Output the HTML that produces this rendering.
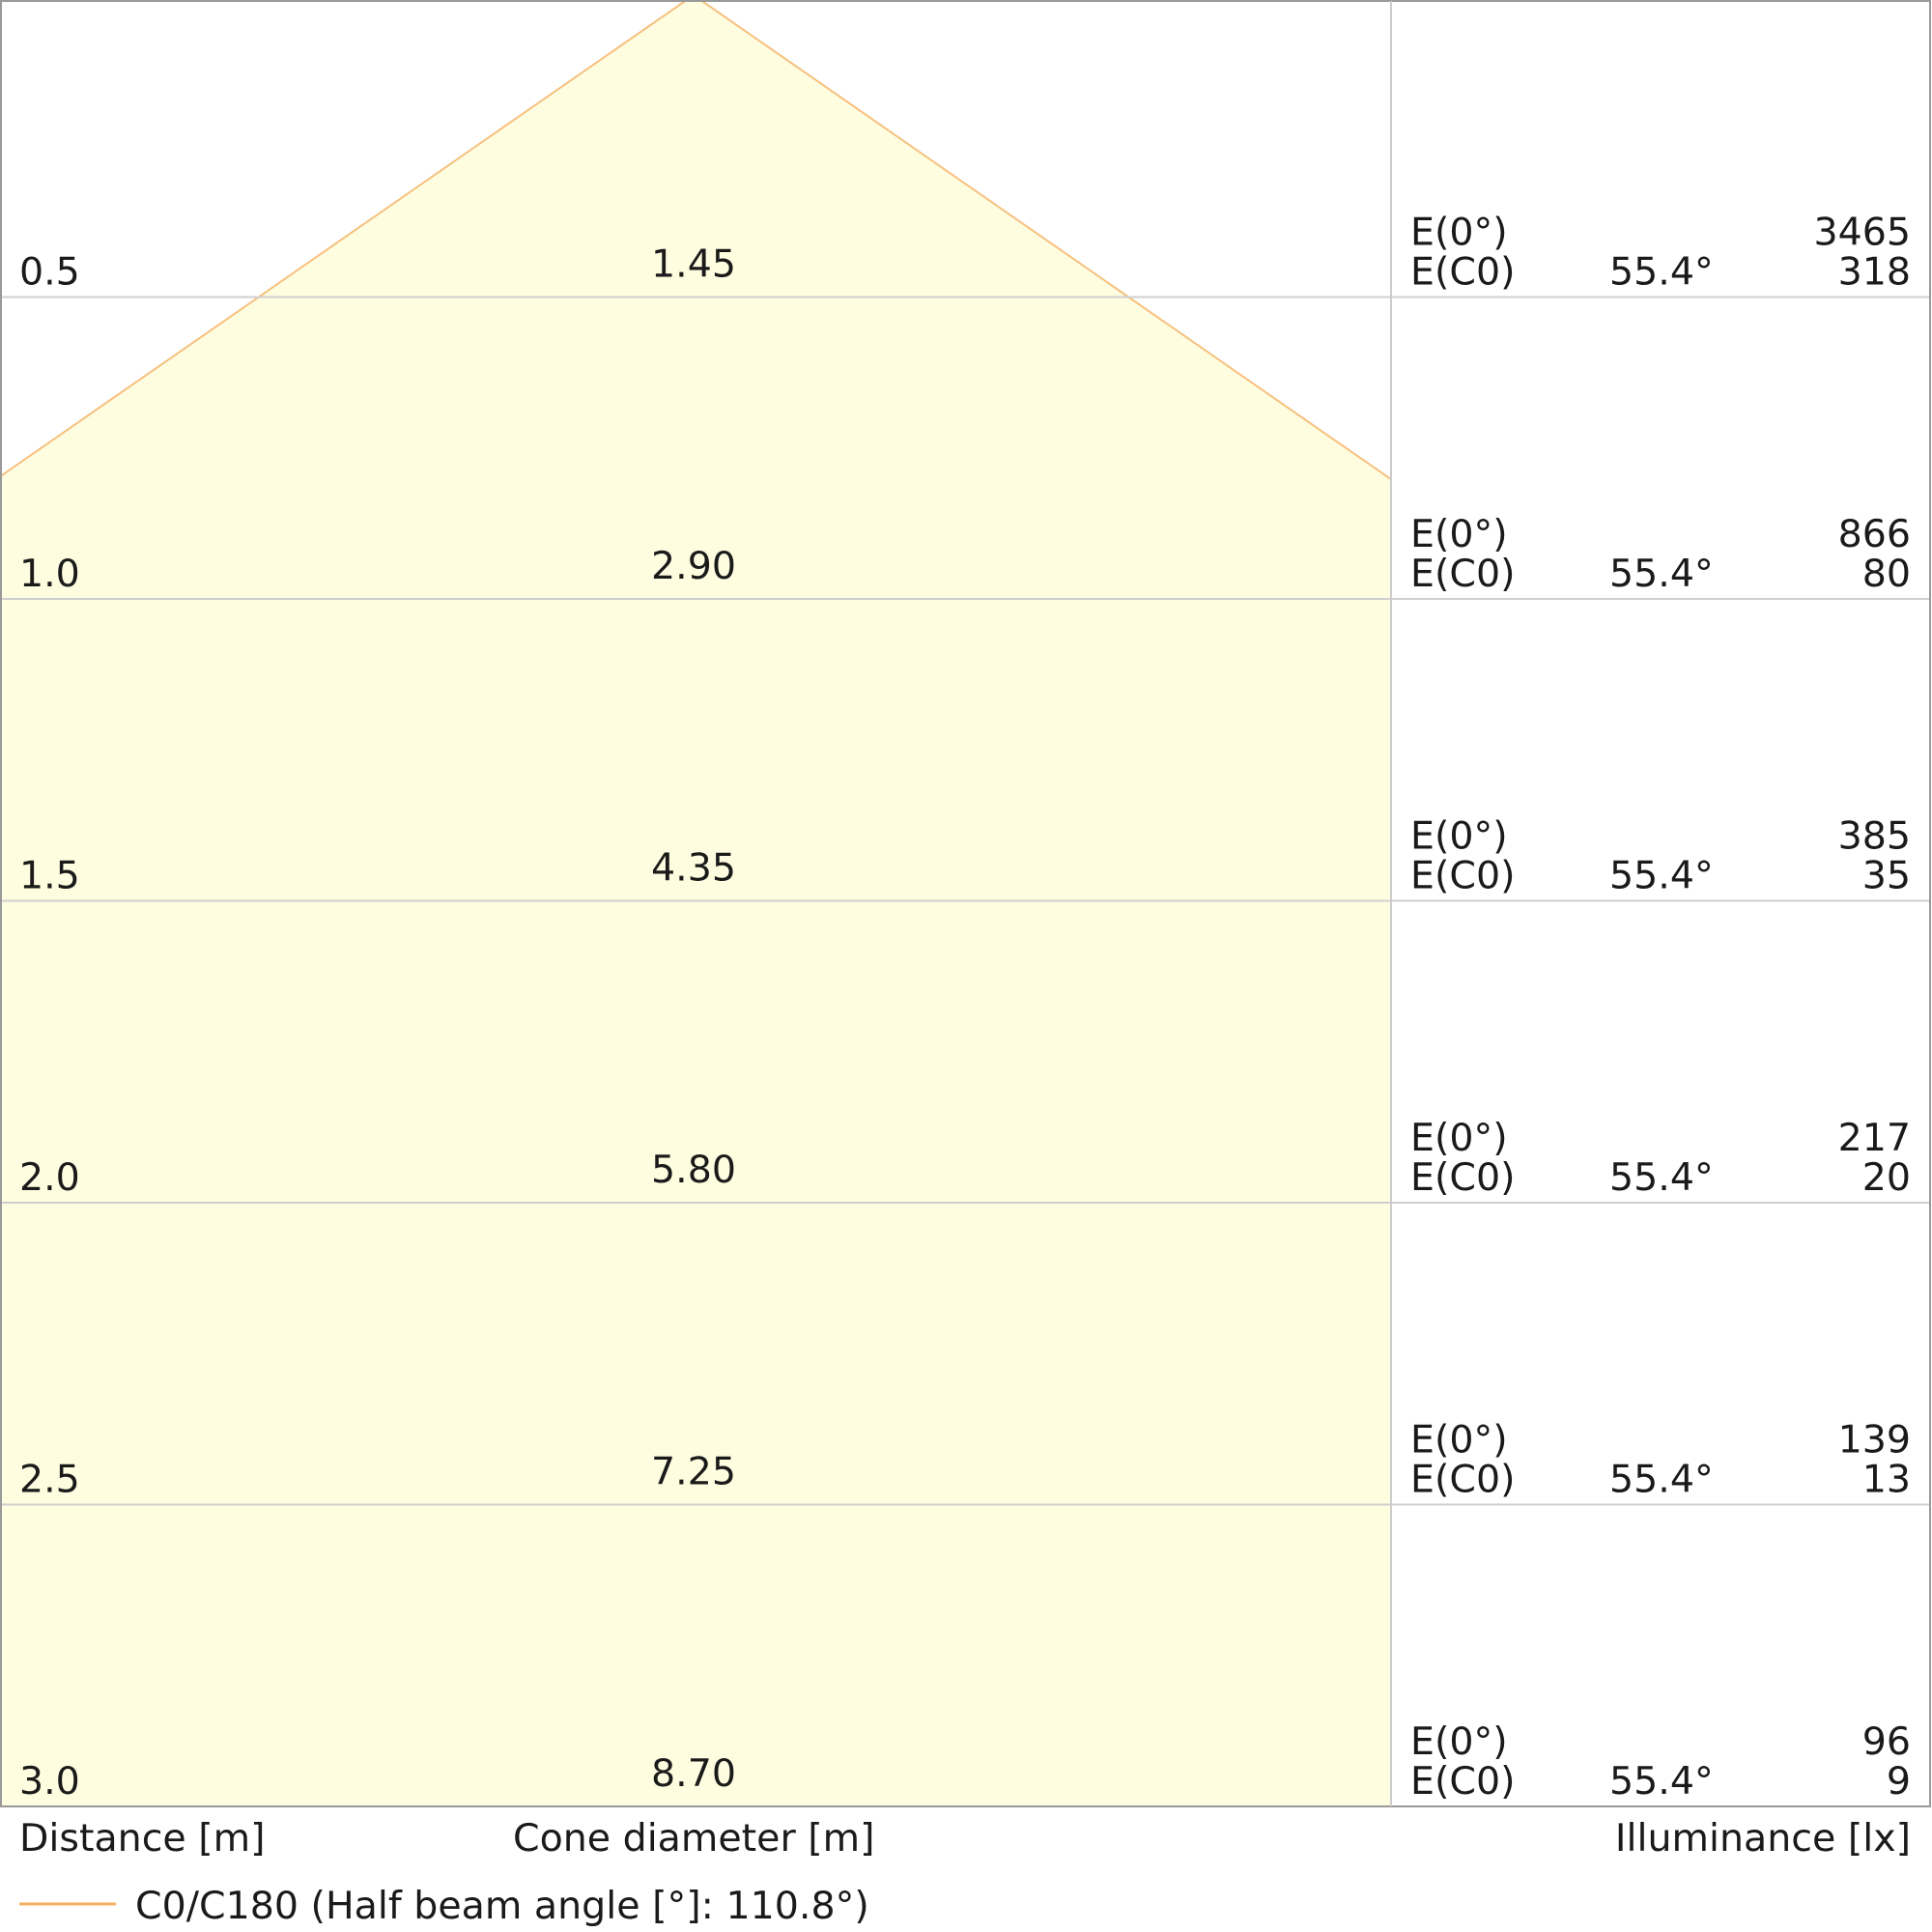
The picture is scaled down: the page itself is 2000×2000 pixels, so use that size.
<!DOCTYPE html>
<html><head><meta charset="utf-8"><style>
html,body{margin:0;padding:0;background:#fff;}
svg{display:block;}
text{font-family:"DejaVu Sans","Liberation Sans",sans-serif;font-size:39.5px;fill:#1a1a1a;}
</style></head><body>
<svg id="chart" width="2000" height="2000" viewBox="0 0 2000 2000">
<defs><clipPath id="plotclip"><rect x="1" y="1" width="1439" height="1869"/></clipPath></defs>
<g id="cone" clip-path="url(#plotclip)"></g>
<g id="grid"></g>
<rect x="1" y="1" width="1997" height="1869" fill="none" stroke="#999" stroke-width="2"/>
<line x1="1440" y1="1" x2="1440" y2="1870" stroke="#ccc" stroke-width="2"/>
<g id="labels"></g>
<text x="20" y="1916">Distance [m]</text>
<text x="531" y="1916">Cone diameter [m]</text>
<text x="1978" y="1916" text-anchor="end">Illuminance [lx]</text>
<line x1="20" y1="1971" x2="120" y2="1971" stroke="#f5b060" stroke-width="3"/>
<text x="140" y="1986">C0/C180 (Half beam angle [°]: 110.8°)</text>
</svg>
<script>
const distances = [0.5, 1.0, 1.5, 2.0, 2.5, 3.0];
const distanceLabels = ["0.5","1.0","1.5","2.0","2.5","3.0"];
const diameters = ["1.45","2.90","4.35","5.80","7.25","8.70"];
const e0Values = [3465, 866, 385, 217, 139, 96];
const ec0Values = [318, 80, 35, 20, 13, 9];
const beamAngles = ["55.4°","55.4°","55.4°","55.4°","55.4°","55.4°"];
const diameterValues = [1.45, 2.90, 4.35, 5.80, 7.25, 8.70];

const NS = "http://www.w3.org/2000/svg";
const y0 = -5, pxPerM = 625;
function yScale(d){ return y0 + d * pxPerM; }
const cx = 718, pxPerRadiusM = 621;
function xScale(r){ return cx + r * pxPerRadiusM; }

function mk(tag, attrs, parent){
  const el = document.createElementNS(NS, tag);
  for (const k in attrs) el.setAttribute(k, attrs[k]);
  parent.appendChild(el); return el;
}
const cone = document.getElementById('cone');
const grid = document.getElementById('grid');
const labels = document.getElementById('labels');

const last = distances.length - 1;
const rMax = diameterValues[last] / 2;
const pts = [[xScale(0), yScale(0)], [xScale(rMax), yScale(distances[last])], [xScale(-rMax), yScale(distances[last])]];
const poly = mk('polygon', {points: pts.map(p => p.join(',')).join(' '), fill: '#fefde0', stroke: '#f7c07e', 'stroke-width': 2}, cone);


const edgeR = mk('line', {x1: 1440, y1: 1, x2: 1440, y2: 1870, stroke: '#e0c8a8', 'stroke-width': 2}, cone);



distances.forEach((d, i) => {
  const y = yScale(d);
  if (i < last) {
    const gl = mk('line', {x1: 1, y1: y, x2: 1998, y2: y, stroke: '#cfcfcf', 'stroke-width': 2}, grid);
    
    
  }
  const t1 = mk('text', {x: 20, y: y - 13}, labels); t1.textContent = distanceLabels[i];
  
  
  const t2 = mk('text', {x: cx, y: y - 21, 'text-anchor': 'middle'}, labels); t2.textContent = diameters[i];
  
  
  const t3 = mk('text', {x: 1460, y: y - 54}, labels); t3.textContent = 'E(0°)';
  
  
  const t4 = mk('text', {x: 1460, y: y - 13}, labels); t4.textContent = 'E(C0)';
  
  
  const t5 = mk('text', {x: 1666, y: y - 13}, labels); t5.textContent = beamAngles[i];
  
  
  const t6 = mk('text', {x: 1978, y: y - 54, 'text-anchor': 'end'}, labels); t6.textContent = e0Values[i];
  
  
  const t7 = mk('text', {x: 1978, y: y - 13, 'text-anchor': 'end'}, labels); t7.textContent = ec0Values[i];
  
  
});
</script>
</body></html>
